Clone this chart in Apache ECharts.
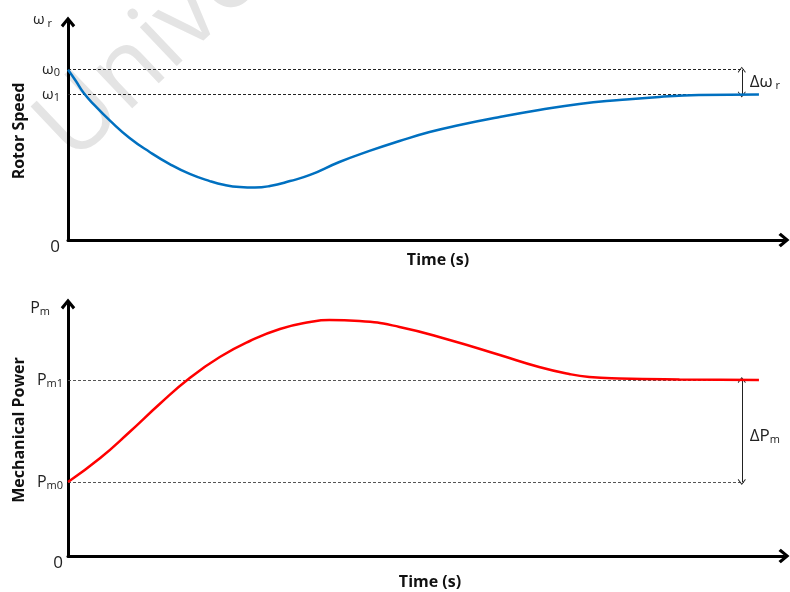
<!DOCTYPE html>
<html>
<head>
<meta charset="utf-8">
<script src="https://cdn.jsdelivr.net/npm/echarts@6/dist/echarts.min.js"></script>
<style>
  html, body { margin: 0; padding: 0; background: #fff; }
  #chart { width: 790px; height: 592px; }
</style>
</head>
<body>
<div id="chart"></div>
<script>
// Rotor speed response after the disturbance (normalised to ω0 = 1)
const speedTime = [0, 0.11, 0.22, 0.38, 0.59, 0.86, 1.14, 1.42, 1.70, 1.98, 2.19, 2.40, 2.61, 2.82, 3.10, 3.38, 3.79, 4.21, 4.63, 5.05, 5.47, 6.03, 6.58, 7.14, 7.70, 8.26, 8.81, 9.65];
const rotorSpeed = [1.0, 0.934, 0.863, 0.787, 0.699, 0.599, 0.517, 0.446, 0.388, 0.346, 0.323, 0.311, 0.308, 0.317, 0.346, 0.382, 0.458, 0.523, 0.581, 0.634, 0.675, 0.722, 0.763, 0.799, 0.822, 0.840, 0.851, 0.855];

// Mechanical power response (normalised to Pm0 = 1)
const powerTime = [0, 0.45, 0.86, 1.28, 1.7, 2.12, 2.54, 2.96, 3.38, 3.65, 4.07, 4.63, 5.33, 6.03, 6.58, 7.0, 7.28, 7.7, 8.54, 9.65];
const mechPower = [1.0, 1.324, 1.676, 2.054, 2.405, 2.689, 2.905, 3.068, 3.162, 3.189, 3.176, 3.095, 2.919, 2.716, 2.554, 2.459, 2.419, 2.399, 2.385, 2.378];

// Reference levels
const W0 = 1.0, W1 = 0.855;
const PM0 = 1.0, PM1 = 2.378;
const TIME_MAX = 10;
const SPEED_MAX = 1.28;
const POWER_MAX = 3.405;
const REF_END = 9.44;   // where the dashed reference lines stop
const DELTA_T = 9.41;   // time position of the Δ markers

const FONT = '"Open Sans", "Noto Sans", sans-serif';
const CHEVRON = 'path://M5,0 L10,6 L8.4,7.6 L5,3.2 L1.6,7.6 L0,6 Z';
const THIN_HEAD = 'path://M5,0 L10,6 L9.2,6.8 L5,1.6 L0.8,6.8 L0,6 Z';

function axisLine() {
  return {
    show: true,
    lineStyle: { color: '#000', width: 3 },
    symbol: ['none', CHEVRON],
    symbolSize: [15, 11]
  };
}

const labelRich = {
  z: { fontSize: 17, color: '#222', fontFamily: FONT, padding: [14, 0, 0, 0] },
  b: { fontSize: 15, color: '#222', fontFamily: FONT },
  p: { fontSize: 16, color: '#222', fontFamily: FONT },
  s: { fontSize: 11, color: '#222', fontFamily: FONT, padding: [7, 0, 0, 0] }
};

function speedLabel(v) {
  if (v === 0) return '{z|0}';
  if (v === W0) return '{b|ω}{s|0}';
  if (v === W1) return '{b|ω}{s|1}';
  return '';
}
function powerLabel(v) {
  if (v === 0) return '{z|0}';
  if (v === PM0) return '{p|P}{s|m0}';
  if (v === PM1) return '{p|P}{s|m1}';
  return '';
}

function refLine(level) {
  return [{ coord: [0, level] }, { coord: [REF_END, level] }];
}

const titleStyle = { fontWeight: 'bold', fontSize: 16, color: '#111', fontFamily: FONT };

const chart = echarts.init(document.getElementById('chart'), null, { renderer: 'canvas' });

chart.setOption({
  animation: false,
  backgroundColor: '#fff',
  textStyle: { fontFamily: FONT },
  graphic: [{
    type: 'text',
    x: 88,
    y: 180,
    z: -10,
    rotation: 0.76,
    style: {
      text: 'University',
      fontSize: 100,
      fontFamily: FONT,
      fill: '#e4e4e4',
      verticalAlign: 'bottom'
    }
  }],
  grid: [
    { left: 68, right: 6, top: 22, height: 218 },
    { left: 68, right: 6, top: 304, height: 252 }
  ],
  xAxis: [
    {
      gridIndex: 0, type: 'value', min: 0, max: TIME_MAX,
      axisLine: axisLine(), axisTick: { show: false }, axisLabel: { show: false }, splitLine: { show: false },
      name: 'Time (s)', nameLocation: 'middle', nameGap: 12,
      nameTextStyle: Object.assign({ padding: [0, 0, 0, 24] }, titleStyle)
    },
    {
      gridIndex: 1, type: 'value', min: 0, max: TIME_MAX,
      axisLine: axisLine(), axisTick: { show: false }, axisLabel: { show: false }, splitLine: { show: false },
      name: 'Time (s)', nameLocation: 'middle', nameGap: 18,
      nameTextStyle: Object.assign({ padding: [0, 0, 0, 8] }, titleStyle)
    }
  ],
  yAxis: [
    {
      gridIndex: 0, type: 'value', min: 0, max: SPEED_MAX,
      axisLine: axisLine(), axisTick: { show: false }, splitLine: { show: false },
      axisLabel: { customValues: [0, W1, W0], formatter: speedLabel, rich: labelRich, margin: 8 },
      name: '{b|ω}{s| r}', nameLocation: 'end', nameGap: 2,
      nameTextStyle: { align: 'right', verticalAlign: 'middle', padding: [0, 16, 0, 0], rich: labelRich }
    },
    {
      gridIndex: 0, type: 'value', position: 'left',
      axisLine: { show: false }, axisTick: { show: false }, axisLabel: { show: false }, splitLine: { show: false },
      name: 'Rotor Speed', nameLocation: 'middle', nameRotate: 90, nameGap: 41,
      nameTextStyle: titleStyle
    },
    {
      gridIndex: 1, type: 'value', min: 0, max: POWER_MAX,
      axisLine: axisLine(), axisTick: { show: false }, splitLine: { show: false },
      axisLabel: { customValues: [0, PM0, PM1], formatter: powerLabel, rich: labelRich, margin: 5 },
      name: '{p|P}{s|m}', nameLocation: 'end', nameGap: -4,
      nameTextStyle: { align: 'right', verticalAlign: 'middle', padding: [0, 18, 0, 0], rich: labelRich }
    },
    {
      gridIndex: 1, type: 'value', position: 'left',
      axisLine: { show: false }, axisTick: { show: false }, axisLabel: { show: false }, splitLine: { show: false },
      name: 'Mechanical Power', nameLocation: 'middle', nameRotate: 90, nameGap: 41,
      nameTextStyle: titleStyle
    }
  ],
  series: [
    {
      // dashed reference levels ω0 and ω1
      type: 'line', xAxisIndex: 0, yAxisIndex: 0, data: [], silent: true,
      markLine: {
        silent: true, symbol: ['none', 'none'], label: { show: false },
        lineStyle: { type: [3, 2], color: '#222', width: 1 },
        data: [refLine(W0), refLine(W1)]
      }
    },
    {
      // Δω double arrow and its label
      type: 'line', xAxisIndex: 0, yAxisIndex: 0, data: [], silent: true,
      markLine: {
        silent: true, symbol: [THIN_HEAD, THIN_HEAD], symbolSize: [8, 6], label: { show: false },
        lineStyle: { type: 'solid', color: '#222', width: 1 },
        data: [[{ coord: [DELTA_T, W1] }, { coord: [DELTA_T, W0] }]]
      },
      markPoint: {
        silent: true, symbol: 'circle', symbolSize: 0,
        label: {
          show: true, position: 'right', distance: 8,
          formatter: '{d|Δω}{s| r}',
          rich: { d: { fontSize: 17, color: '#222', fontFamily: FONT }, s: labelRich.s }
        },
        data: [{ coord: [DELTA_T, (W0 + W1) / 2] }]
      }
    },
    {
      name: 'Rotor Speed', type: 'line', xAxisIndex: 0, yAxisIndex: 0,
      data: speedTime.map((t, i) => [t, rotorSpeed[i]]),
      smooth: 0.5, showSymbol: false, symbol: 'none',
      lineStyle: { color: '#0070C0', width: 2.5 }, z: 5
    },
    {
      // dashed reference levels Pm0 and Pm1
      type: 'line', xAxisIndex: 1, yAxisIndex: 2, data: [], silent: true,
      markLine: {
        silent: true, symbol: ['none', 'none'], label: { show: false },
        lineStyle: { type: [3, 2], color: '#555', width: 1 },
        data: [refLine(PM0), refLine(PM1)]
      }
    },
    {
      // ΔPm double arrow and its label
      type: 'line', xAxisIndex: 1, yAxisIndex: 2, data: [], silent: true,
      markLine: {
        silent: true, symbol: [THIN_HEAD, THIN_HEAD], symbolSize: [8, 6], label: { show: false },
        lineStyle: { type: 'solid', color: '#222', width: 1 },
        data: [[{ coord: [DELTA_T, PM0] }, { coord: [DELTA_T, PM1] }]]
      },
      markPoint: {
        silent: true, symbol: 'circle', symbolSize: 0,
        label: {
          show: true, position: 'right', distance: 8,
          formatter: '{d|ΔP}{s|m}', padding: [10, 0, 0, 0],
          rich: { d: { fontSize: 17, color: '#222', fontFamily: FONT }, s: labelRich.s }
        },
        data: [{ coord: [DELTA_T, (PM0 + PM1) / 2] }]
      }
    },
    {
      name: 'Mechanical Power', type: 'line', xAxisIndex: 1, yAxisIndex: 2,
      data: powerTime.map((t, i) => [t, mechPower[i]]),
      smooth: 0.5, showSymbol: false, symbol: 'none',
      lineStyle: { color: '#FF0000', width: 2.5 }, z: 5
    }
  ]
});
</script>
</body>
</html>
